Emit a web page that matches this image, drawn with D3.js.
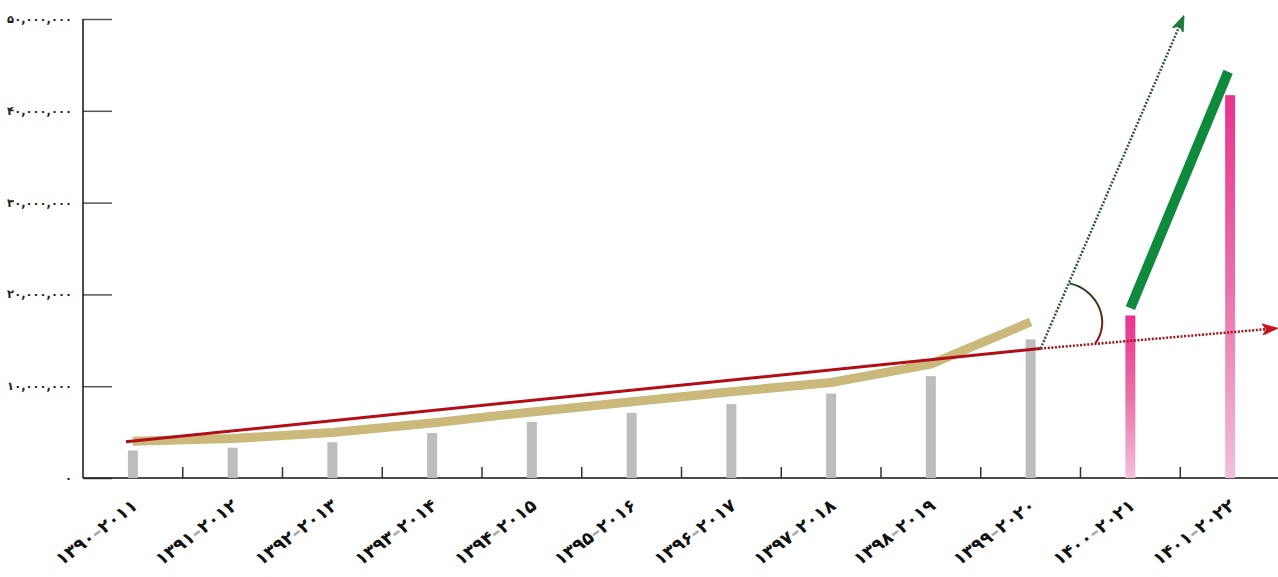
<!DOCTYPE html>
<html>
<head>
<meta charset="utf-8">
<script src="https://cdn.jsdelivr.net/npm/d3@7"></script>
<style>
    body { margin: 0; background: #fff; }
    svg { display: block; font-family: "DejaVu Sans", sans-serif; }
</style>
</head>
<body>
<svg id="chart"></svg>
<script>
// category labels (solar year – gregorian year)
const persianYears = ["۱۳۹۰", "۱۳۹۱", "۱۳۹۲", "۱۳۹۳", "۱۳۹۴", "۱۳۹۵", "۱۳۹۶", "۱۳۹۷", "۱۳۹۸", "۱۳۹۹", "۱۴۰۰", "۱۴۰۱"];
const gregorianYears = ["۲۰۱۱", "۲۰۱۲", "۲۰۱۳", "۲۰۱۴", "۲۰۱۵", "۲۰۱۶", "۲۰۱۷", "۲۰۱۸", "۲۰۱۹", "۲۰۲۰", "۲۰۲۱", "۲۰۲۲"];

// bar values (millions)
const barValues = [3.0, 3.3, 3.9, 4.9, 6.1, 7.1, 8.05, 9.2, 11.1, 15.1, 17.7, 41.7];
const forecastFrom = 10; // bars from this index on are pink

// tan line values (millions), one per category up to 1399
const lineValues = [4.0, 4.3, 4.95, 6.0, 7.2, 8.3, 9.4, 10.4, 12.4, 17.0];

// red trend line and annotations: [index, value in millions]
const trendPoints = [[-0.07, 3.95], [9.1, 14.1]];
const trendArrow = [[9.1, 14.1], [11.46, 16.3]];
const steepArrow = [[9.1, 14.1], [10.53, 50.2]];
const greenSegment = [[10.0, 18.5], [10.98, 44.25]];
const angleArc = [[9.39, 21.2], [9.65, 14.7]];

const yTicks = [0, 10, 20, 30, 40, 50];
const yTickLabels = ["۰", "۱۰,۰۰۰,۰۰۰", "۲۰,۰۰۰,۰۰۰", "۳۰,۰۰۰,۰۰۰", "۴۰,۰۰۰,۰۰۰", "۵۰,۰۰۰,۰۰۰"];

var width = 1278,
    height = 577,
    plotLeft = 83,
    plotRight = 1280,
    plotTop = 19,
    plotBottom = 478;

var svg = d3.select("#chart")
    .attr("width", width)
    .attr("height", height);

var defs = svg.append("defs");

var pinkGrad = defs.append("linearGradient")
    .attr("id", "pink").attr("x1", 0).attr("y1", 0).attr("x2", 0).attr("y2", 1);
pinkGrad.append("stop").attr("offset", "0%").attr("stop-color", "#e8338d");
pinkGrad.append("stop").attr("offset", "50%").attr("stop-color", "#e872a8");
pinkGrad.append("stop").attr("offset", "100%").attr("stop-color", "#f2c0da");

var arcGrad = defs.append("linearGradient")
    .attr("id", "arcgrad")
    .attr("x1", 0).attr("y1", 0).attr("x2", 0).attr("y2", 1);
arcGrad.append("stop").attr("offset", "0%").attr("stop-color", "#16461f");
arcGrad.append("stop").attr("offset", "100%").attr("stop-color", "#9a1018");

const addHead = function (id, fill, stroke) {
    defs.append("marker")
        .attr("id", id)
        .attr("viewBox", "0 -6 16 12")
        .attr("refX", 14).attr("refY", 0)
        .attr("markerWidth", 16).attr("markerHeight", 12)
        .attr("markerUnits", "userSpaceOnUse")
        .attr("orient", "auto")
        .append("path")
        .attr("d", "M0,-6L16,0L0,6L4,0Z")
        .attr("fill", fill)
        .attr("stroke", stroke)
        .attr("stroke-width", 0.6);
};
addHead("greenHead", "#17803a", "#0f5a28");
addHead("redHead", "#c8141c", "#c8141c");

// scales
var x = d3.scaleBand()
    .domain(d3.range(persianYears.length))
    .range([plotLeft, plotRight]);

var xi = d3.scaleLinear()
    .domain([0, persianYears.length - 1])
    .range([x(0) + x.bandwidth() / 2, x(persianYears.length - 1) + x.bandwidth() / 2]);

var y = d3.scaleLinear()
    .domain([0, 50])
    .range([plotBottom, plotTop]);

var toPx = d => [xi(d[0]), y(d[1])];

// y axis
var yAxis = svg.append("g")
    .attr("transform", "translate(" + plotLeft + ",0)")
    .call(d3.axisRight(y).tickValues(yTicks).tickSize(29).tickFormat(""));
yAxis.select(".domain").remove();
yAxis.selectAll(".tick line").attr("stroke", "#555").attr("stroke-width", 1.5);

svg.append("line")
    .attr("x1", plotLeft).attr("x2", plotLeft)
    .attr("y1", y(50)).attr("y2", plotBottom)
    .attr("stroke", "#111").attr("stroke-width", 1.5);

svg.selectAll(".ylabel")
    .data(yTicks)
    .join("text")
    .attr("class", "ylabel")
    .attr("direction", "ltr")
    .attr("x", 72)
    .attr("y", d => y(d))
    .attr("dy", "0.35em")
    .attr("text-anchor", "end")
    .attr("font-size", "11.5px")
    .attr("letter-spacing", "-1.2px")
    .attr("font-weight", "bold")
    .attr("fill", "#222")
    .text((d, i) => yTickLabels[i]);

// x axis with inner ticks between categories
svg.append("line")
    .attr("x1", plotLeft).attr("x2", width)
    .attr("y1", plotBottom).attr("y2", plotBottom)
    .attr("stroke", "#111").attr("stroke-width", 1.5);

svg.selectAll(".xtick")
    .data(d3.range(1, persianYears.length))
    .join("line")
    .attr("class", "xtick")
    .attr("x1", d => x(d)).attr("x2", d => x(d))
    .attr("y1", plotBottom).attr("y2", plotBottom - 11)
    .attr("stroke", "#333").attr("stroke-width", 1.5);

// bars
var barWidth = 10;
svg.selectAll(".bar")
    .data(barValues)
    .join("rect")
    .attr("class", "bar")
    .attr("x", (d, i) => xi(i) - barWidth / 2)
    .attr("y", d => y(d))
    .attr("width", barWidth)
    .attr("height", d => plotBottom - y(d))
    .attr("fill", (d, i) => i >= forecastFrom ? "url(#pink)" : "#bdbdbd");

// tan line
var line = d3.line()
    .x((d, i) => xi(i))
    .y(d => y(d));

svg.append("path")
    .datum(lineValues)
    .attr("d", line)
    .attr("fill", "none")
    .attr("stroke", "#cbb87b")
    .attr("stroke-width", 9)
    .attr("stroke-linejoin", "round");

// red trend
svg.append("path")
    .datum(trendPoints.map(toPx))
    .attr("d", d3.line())
    .attr("fill", "none")
    .attr("stroke", "#b10f17")
    .attr("stroke-width", 3);

// dotted arrows
svg.append("path")
    .datum(trendArrow.map(toPx))
    .attr("d", d3.line())
    .attr("stroke", "#a3121b")
    .attr("stroke-width", 2.5)
    .attr("stroke-dasharray", "2,1.6")
    .attr("marker-end", "url(#redHead)");

svg.append("path")
    .datum(steepArrow.map(toPx))
    .attr("d", d3.line())
    .attr("stroke", "#2f5a3c")
    .attr("stroke-width", 2.5)
    .attr("stroke-dasharray", "2,1.6")
    .attr("marker-end", "url(#greenHead)");

// angle arc between the two arrows
var a0 = toPx(angleArc[0]),
    a1 = toPx(angleArc[1]);
svg.append("path")
    .attr("d", "M" + a0[0] + "," + a0[1] +
        "C" + (a0[0] + 28) + "," + (a0[1] + 6) + " " +
        (a1[0] + 16) + "," + (a1[1] - 22) + " " +
        a1[0] + "," + a1[1])
    .attr("fill", "none")
    .attr("stroke", "url(#arcgrad)")
    .attr("stroke-width", 2);

// green thick segment
svg.append("path")
    .datum(greenSegment.map(toPx))
    .attr("d", d3.line())
    .attr("stroke", "#0f8a3c")
    .attr("stroke-width", 10)
    .attr("stroke-linecap", "butt");

// x labels, rotated
var labels = svg.selectAll(".xlabel")
    .data(persianYears)
    .join("text")
    .attr("class", "xlabel")
    .attr("direction", "ltr")
    .attr("text-anchor", "end")
    .attr("font-size", "18px")
    .attr("font-weight", "bold")
    .attr("fill", "#111")
    .attr("transform", (d, i) => "translate(" + (xi(i) + 6) + "," + (plotBottom + 30) + ") rotate(-37)");

labels.append("tspan").text(d => d);
labels.append("tspan").attr("fill", "#aaa").text("–");
labels.append("tspan").text((d, i) => gregorianYears[i]);
</script>
</body>
</html>
